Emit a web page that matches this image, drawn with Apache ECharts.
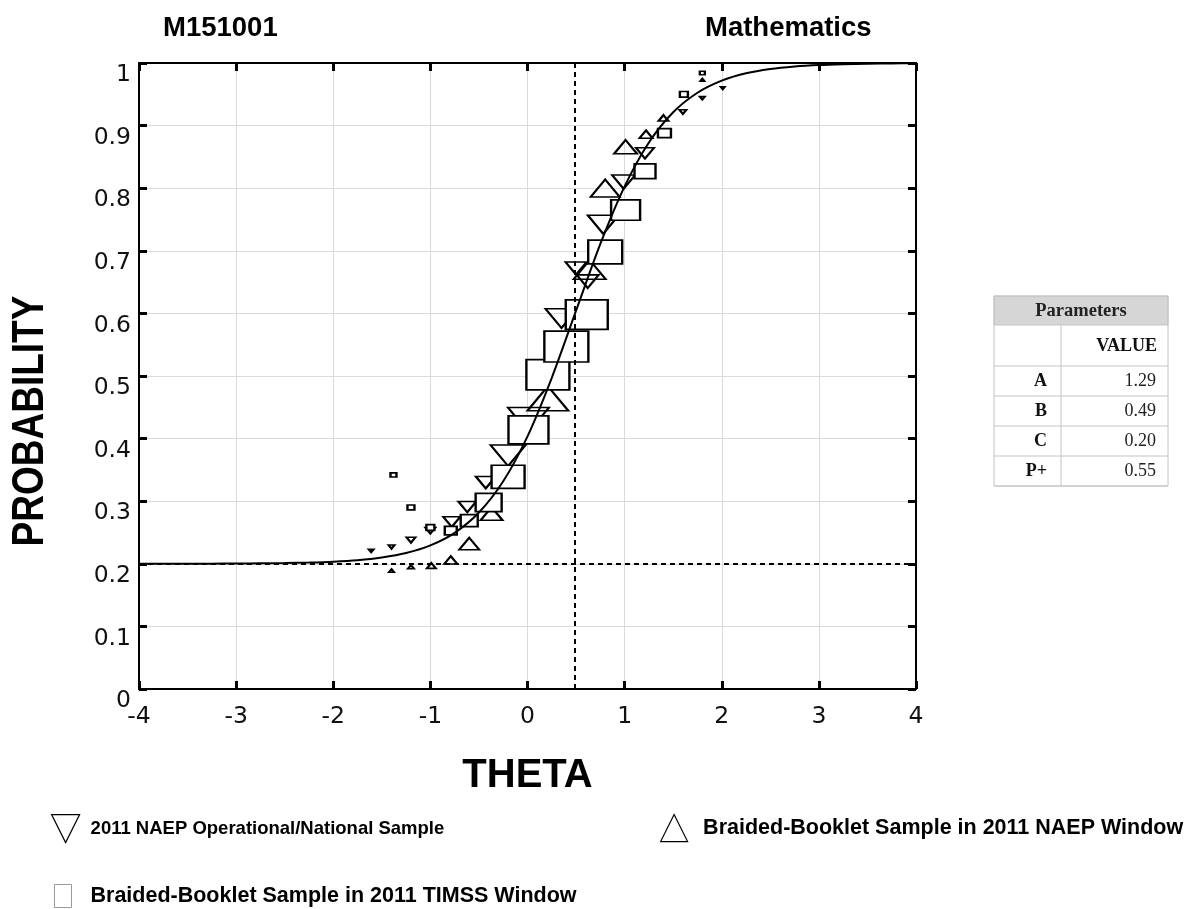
<!DOCTYPE html>
<html><head><meta charset="utf-8">
<script src="https://cdn.jsdelivr.net/npm/echarts@6/dist/echarts.min.js"></script>
<style>html,body{margin:0;padding:0;background:#fff}#chart{width:1186px;height:909px}</style>
</head><body><div id="chart"></div>
<script>
// ---- data ----
const itemId = 'M151001';
const subject = 'Mathematics';
const seriesNames = ['2011 NAEP Operational/National Sample', 'Braided-Booklet Sample in 2011 NAEP Window', 'Braided-Booklet Sample in 2011 TIMSS Window'];

// fitted item characteristic curve
const curveTheta = [-4, -3.75, -3.5, -3.25, -3, -2.75, -2.5, -2.25, -2, -1.75, -1.5, -1.25, -1, -0.75, -0.5, -0.25, 0, 0.25, 0.5, 0.75, 1, 1.25, 1.5, 1.75, 2, 2.25, 2.5, 2.75, 3, 3.25, 3.5, 3.75, 4];
const curveProb  = [0.2000, 0.2001, 0.2001, 0.2002, 0.2004, 0.2007, 0.2011, 0.2020, 0.2034, 0.2058, 0.2101, 0.2172, 0.2294, 0.2495, 0.2819, 0.3318, 0.4036, 0.4971, 0.6044, 0.7110, 0.8029, 0.8730, 0.9213, 0.9525, 0.9718, 0.9835, 0.9904, 0.9944, 0.9968, 0.9981, 0.9989, 0.9994, 0.9996];

// 2011 NAEP Operational / National sample (down triangles)
const naepTheta  = [-1.61, -1.40, -1.20, -1.00, -0.78, -0.62, -0.43, -0.20, 0.01, 0.35, 0.50, 0.62, 0.78, 0.99, 1.21, 1.60, 1.80, 2.01];
const naepProb   = [0.221, 0.227, 0.238, 0.253, 0.267, 0.291, 0.330, 0.373, 0.430, 0.592, 0.672, 0.651, 0.742, 0.810, 0.856, 0.922, 0.944, 0.960];
const naepWeight = [5, 6, 9, 10, 17, 18, 20, 35, 41, 32, 21, 22, 31, 23, 18, 7, 5, 4];

// Braided-booklet sample in 2011 NAEP window (up triangles)
const bbNaepTheta  = [-1.40, -1.20, -0.99, -0.79, -0.60, -0.37, 0.21, 0.64, 0.80, 1.01, 1.22, 1.40, 1.80];
const bbNaepProb   = [0.189, 0.195, 0.197, 0.206, 0.232, 0.280, 0.464, 0.670, 0.800, 0.866, 0.886, 0.912, 0.973];
const bbNaepWeight = [5, 6, 9, 13, 20, 22, 41, 32, 29, 23, 13, 10, 4];

// Braided-booklet sample in 2011 TIMSS window (squares)
const bbTimssTheta  = [-1.38, -1.20, -1.00, -0.79, -0.60, -0.40, -0.20, 0.01, 0.21, 0.40, 0.61, 0.80, 1.01, 1.21, 1.41, 1.61, 1.80];
const bbTimssProb   = [0.342, 0.290, 0.258, 0.253, 0.269, 0.298, 0.339, 0.414, 0.502, 0.547, 0.598, 0.698, 0.765, 0.827, 0.888, 0.950, 0.984];
const bbTimssWeight = [6, 7, 8, 12, 17, 26, 33, 40, 43, 44, 42, 34, 29, 21, 13, 8, 5];

// parameters table
const paramLabels = ['A', 'B', 'C', 'P+'];
const paramValues = ['1.29', '0.49', '0.20', '0.55'];

// ---- build chart ----
const chart = echarts.init(document.getElementById('chart'), null, {renderer: 'canvas'});
const K = 1; // weight -> pixel width
function pts(th, pr, w, ratio) {
  return th.map((t, i) => ({value: [t, pr[i]], symbolSize: [w[i] * K, w[i] * K * ratio]}));
}
const bValue = parseFloat(paramValues[1]);
const cValue = parseFloat(paramValues[2]);

const SANS = 'Liberation Sans, Arial, sans-serif';
const TICKFONT = 'DejaVu Sans, Liberation Sans, sans-serif';
const SERIF = 'Liberation Serif, Times New Roman, serif';
const markerStyle = {color: 'rgba(255,255,255,0)', borderColor: '#000', borderWidth: 2, opacity: 1};

// table graphics
const tx = 994, ty = 296, tw = 174, colX = 1061;
const rowTops = [366, 396, 426, 456];
const tableEls = [
  {type: 'rect', shape: {x: tx, y: ty, width: tw, height: 29}, style: {fill: '#d6d6d6', stroke: '#c4c4c4', lineWidth: 1}},
  {type: 'rect', shape: {x: tx, y: ty, width: tw, height: 190}, style: {fill: 'none', stroke: '#c4c4c4', lineWidth: 1}},
  {type: 'line', shape: {x1: tx, y1: 366, x2: tx + tw, y2: 366}, style: {stroke: '#c4c4c4', lineWidth: 1}},
  {type: 'line', shape: {x1: colX, y1: 325, x2: colX, y2: 486}, style: {stroke: '#c4c4c4', lineWidth: 1}},
  {type: 'text', x: tx + tw / 2, y: ty + 15, style: {text: 'Parameters', font: 'bold 18.5px ' + SERIF, fill: '#222', align: 'center', verticalAlign: 'middle'}},
  {type: 'text', x: 1157, y: 346, style: {text: 'VALUE', font: 'bold 18px ' + SERIF, fill: '#111', align: 'right', verticalAlign: 'middle'}}
];
paramLabels.forEach((lab, i) => {
  const top = rowTops[i];
  tableEls.push({type: 'line', shape: {x1: tx, y1: top + 30, x2: tx + tw, y2: top + 30}, style: {stroke: '#c4c4c4', lineWidth: 1}});
  tableEls.push({type: 'text', x: 1047, y: top + 15, style: {text: lab, font: 'bold 18px ' + SERIF, fill: '#111', align: 'right', verticalAlign: 'middle'}});
  tableEls.push({type: 'text', x: 1156, y: top + 15, style: {text: paramValues[i], font: '18px ' + SERIF, fill: '#222', align: 'right', verticalAlign: 'middle'}});
});

const legendCommon = {
  orient: 'horizontal', selectedMode: false, padding: 0,
  textStyle: {fontFamily: SANS, fontWeight: 'bold', fontSize: 18.5, color: '#000'}
};

const option = {
  animation: false,
  backgroundColor: '#fff',
  title: [
    {text: itemId, left: 163, top: 14, padding: 0, textStyle: {fontFamily: SANS, fontWeight: 'bold', fontSize: 27.5, color: '#000'}},
    {text: subject, left: 705, top: 14, padding: 0, textStyle: {fontFamily: SANS, fontWeight: 'bold', fontSize: 27.5, color: '#000'}}
  ],
  legend: [
    Object.assign({}, legendCommon, {data: [seriesNames[0]], left: 51, top: 814, itemWidth: 28, itemHeight: 29,
      icon: 'path://M0,0L20,0L10,20Z', itemStyle: {color: '#fff', borderColor: '#000', borderWidth: 1.2},
      textStyle: Object.assign({}, legendCommon.textStyle, {padding: [0, 0, 0, 6]})}),
    Object.assign({}, legendCommon, {data: [seriesNames[1]], left: 660, top: 814, itemWidth: 28, itemHeight: 27,
      icon: 'path://M10,0L20,20L0,20Z', itemStyle: {color: '#fff', borderColor: '#000', borderWidth: 1.2},
      textStyle: Object.assign({}, legendCommon.textStyle, {fontSize: 21.5, padding: [0, 0, 0, 10]})}),
    Object.assign({}, legendCommon, {data: [seriesNames[2]], left: 54, top: 884, itemWidth: 17, itemHeight: 23,
      icon: 'rect', itemStyle: {color: '#fff', borderColor: '#999', borderWidth: 1},
      textStyle: Object.assign({}, legendCommon.textStyle, {fontSize: 21.5, padding: [0, 0, 0, 14]})})
  ],
  grid: {left: 139, top: 63, width: 777, height: 626, containLabel: false},
  xAxis: [
    {type: 'value', min: -4, max: 4, interval: 1, position: 'bottom',
      axisLine: {show: true, onZero: false, lineStyle: {color: '#000', width: 2}},
      axisTick: {show: true, inside: true, length: 8, lineStyle: {color: '#000', width: 3}},
      axisLabel: {fontFamily: TICKFONT, fontSize: 23.5, color: '#111', margin: 16},
      splitLine: {show: true, lineStyle: {color: '#dadada', width: 1}},
      name: 'THETA', nameLocation: 'middle', nameGap: 67,
      nameTextStyle: {fontFamily: SANS, fontWeight: 'bold', fontSize: 40, color: '#000'}},
    {type: 'value', min: -4, max: 4, interval: 1, position: 'top',
      axisLine: {show: true, onZero: false, lineStyle: {color: '#000', width: 2}},
      axisTick: {show: true, inside: true, length: 8, lineStyle: {color: '#000', width: 3}},
      axisLabel: {show: false}, splitLine: {show: false}}
  ],
  yAxis: [
    {type: 'value', min: 0, max: 1, interval: 0.1, position: 'left',
      axisLine: {show: true, onZero: false, lineStyle: {color: '#000', width: 2}},
      axisTick: {show: true, inside: true, length: 8, lineStyle: {color: '#000', width: 3}},
      axisLabel: {fontFamily: TICKFONT, fontSize: 23.5, color: '#111', margin: 8, verticalAlign: 'top',
        formatter: v => String(Math.round(v * 10) / 10)},
      splitLine: {show: true, lineStyle: {color: '#dadada', width: 1}}},
    {type: 'value', min: 0, max: 1, interval: 0.1, position: 'right',
      axisLine: {show: true, onZero: false, lineStyle: {color: '#000', width: 2}},
      axisTick: {show: true, inside: true, length: 8, lineStyle: {color: '#000', width: 3}},
      axisLabel: {show: false}, splitLine: {show: false}}
  ],
  graphic: [
    {type: 'text', x: 31, y: 421, rotation: Math.PI / 2, scaleY: 1.2,
      style: {text: 'PROBABILITY', font: 'bold 37px ' + SANS, fill: '#000', align: 'center', verticalAlign: 'middle'}}
  ].concat(tableEls),
  series: [
    {name: 'ICC', type: 'line', xAxisIndex: 0, yAxisIndex: 0, showSymbol: false, symbol: 'none',
      smooth: 0.3, silent: true,
      lineStyle: {color: '#000', width: 2},
      data: curveTheta.map((t, i) => [t, curveProb[i]]),
      markLine: {silent: true, symbol: 'none', label: {show: false},
        lineStyle: {color: '#000', type: [5, 4], width: 2},
        data: [{xAxis: bValue}, {yAxis: cValue}]}},
    {name: seriesNames[0], type: 'scatter', symbol: 'triangle', symbolRotate: 180,
      itemStyle: markerStyle, data: pts(naepTheta, naepProb, naepWeight, 0.6)},
    {name: seriesNames[1], type: 'scatter', symbol: 'triangle',
      itemStyle: markerStyle, data: pts(bbNaepTheta, bbNaepProb, bbNaepWeight, 0.6)},
    {name: seriesNames[2], type: 'scatter', symbol: 'rect',
      itemStyle: {color: '#fff', borderColor: '#000', borderWidth: 2, opacity: 1}, data: pts(bbTimssTheta, bbTimssProb, bbTimssWeight, 0.7)}
  ]
};
chart.setOption(option);
</script>
</body></html>
